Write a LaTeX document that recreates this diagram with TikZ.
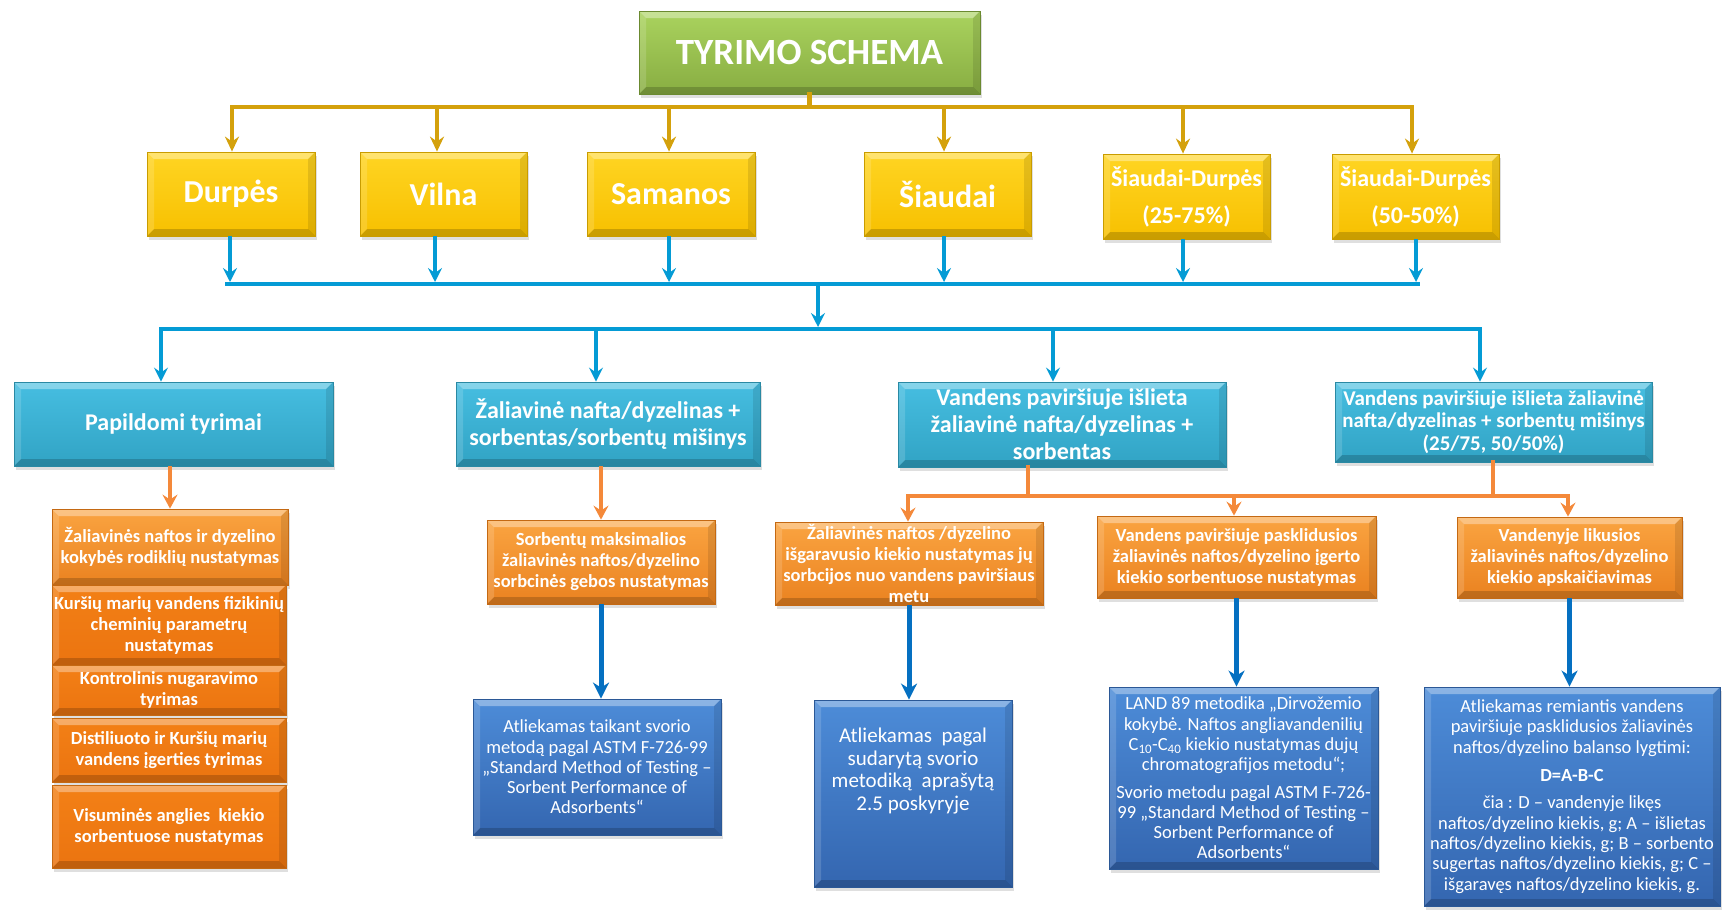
\documentclass[tikz,border=0pt]{standalone}
\usepackage{fontspec}
\setmainfont{Carlito}
\usetikzlibrary{arrows.meta,shadows,calc}
\definecolor{gTop}{HTML}{AAD35E}
\definecolor{gBot}{HTML}{88AD42}
\definecolor{gEdge}{HTML}{6B8A30}
\definecolor{yTop}{HTML}{FFD523}
\definecolor{yBot}{HTML}{F7C000}
\definecolor{yEdge}{HTML}{C99C00}
\definecolor{tTop}{HTML}{46BEE1}
\definecolor{tBot}{HTML}{31A3C4}
\definecolor{tEdge}{HTML}{2A89A3}
\definecolor{oTop}{HTML}{FAA441}
\definecolor{oBot}{HTML}{EA8220}
\definecolor{oEdge}{HTML}{C46913}
\definecolor{o2Top}{HTML}{F38016}
\definecolor{o2Bot}{HTML}{EB7410}
\definecolor{bTop}{HTML}{4D8CD8}
\definecolor{bBot}{HTML}{3466B0}
\definecolor{bEdge}{HTML}{2B5896}
\definecolor{goldLn}{HTML}{D4A10C}
\definecolor{lbLn}{HTML}{049BD5}
\definecolor{orLn}{HTML}{F4893A}
\definecolor{dbLn}{HTML}{0570C1}
\begin{document}
\begin{tikzpicture}[x=1pt,y=-1pt,
  bevel/.style={path picture={
    \fill[white,opacity=0.35] (path picture bounding box.north west) -- (path picture bounding box.north east) -- ([shift={(-7pt,-7pt)}]path picture bounding box.north east) -- ([shift={(7pt,-7pt)}]path picture bounding box.north west) -- cycle;
    \fill[black,opacity=0.18] (path picture bounding box.south west) -- (path picture bounding box.south east) -- ([shift={(-7pt,7pt)}]path picture bounding box.south east) -- ([shift={(7pt,7pt)}]path picture bounding box.south west) -- cycle;
    \fill[white,opacity=0.15] (path picture bounding box.north west) -- ([shift={(7pt,-7pt)}]path picture bounding box.north west) -- ([shift={(7pt,7pt)}]path picture bounding box.south west) -- (path picture bounding box.south west) -- cycle;
    \fill[black,opacity=0.1] (path picture bounding box.north east) -- ([shift={(-7pt,-7pt)}]path picture bounding box.north east) -- ([shift={(-7pt,7pt)}]path picture bounding box.south east) -- (path picture bounding box.south east) -- cycle;
  }},
  box/.style={draw, line width=0.8pt, inner sep=0pt, align=center, text=white,
    drop shadow={opacity=0.25,shadow xshift=2pt,shadow yshift=-4pt}, bevel},
  titlebox/.style={box, top color=gTop, bottom color=gBot, draw=gEdge,
    font=\fontsize{37}{44}\selectfont\bfseries},
  ybox/.style={box, top color=yTop, bottom color=yBot, draw=yEdge,
    font=\fontsize{32}{37}\selectfont\bfseries},
  ysmall/.style={ybox, font=\fontsize{24}{37}\selectfont\bfseries},
  tbox/.style={box, top color=tTop, bottom color=tBot, draw=tEdge,
    font=\fontsize{24}{27}\selectfont\bfseries},
  obox/.style={box, top color=oTop, bottom color=oBot, draw=oEdge,
    font=\fontsize{18.5}{21}\selectfont\bfseries},
  obox2/.style={obox, top color=o2Top, bottom color=o2Bot},
  bbox/.style={box, top color=bTop, bottom color=bBot, draw=bEdge,
    font=\fontsize{18.5}{20.3}\selectfont},
  btext/.style={inner sep=0pt, align=center, text=white, font=\fontsize{21}{22.7}\selectfont},
  gold/.style={draw=goldLn, line width=4.3pt, line cap=rect},
  goldarr/.style={draw=goldLn, line width=4pt, -{Stealth[length=15pt,width=14pt,inset=5pt]}},
  lb/.style={draw=lbLn, line width=4.3pt, line cap=rect},
  lbarr/.style={draw=lbLn, line width=4pt, -{Stealth[length=14pt,width=14pt,inset=5pt]}},
  orl/.style={draw=orLn, line width=4pt, line cap=rect},
  orarr/.style={draw=orLn, line width=4pt, -{Stealth[length=14pt,width=15pt,inset=5pt]}},
  dbarr/.style={draw=dbLn, line width=5pt, -{Stealth[length=16pt,width=16pt,inset=5pt]}}
]
\useasboundingbox (0,0) rectangle (1722,910);

% ---------- title and first row ----------
\node[titlebox, minimum width=341pt, minimum height=83pt] (title) at (809.5,52.5) {TYRIMO SCHEMA};

\node[ybox, minimum width=168pt, minimum height=84pt] (durpes) at (231,194) {Durpės};
\node[ybox, minimum width=167pt, minimum height=84pt] (vilna) at (443.5,194) {Vilna};
\node[ybox, minimum width=168pt, minimum height=84pt] (samanos) at (671,194) {Samanos};
\node[ybox, minimum width=167pt, minimum height=84pt] (siaudai) at (947.5,194) {Šiaudai};
\node[ysmall, minimum width=167pt, minimum height=85pt] (sd25) at (1186.5,196.5) {Šiaudai-Durpės\\(25-75\%)};
\node[ysmall, minimum width=167pt, minimum height=85pt] (sd50) at (1415.5,196.5) {Šiaudai-Durpės\\(50-50\%)};

% gold connectors
\coordinate (gL) at (232,107);
\coordinate (gR) at (1412,107);
\draw[gold] (title.south) -- (title.south |- gL);
\draw[gold] (gL) -- (gR);
\foreach \x/\n in {232/durpes,437/vilna,669/samanos,944/siaudai,1183/sd25,1412/sd50}{
  \coordinate (gt) at (\x,107);
  \draw[goldarr] (gt) -- (gt |- \n.north);
}

% light blue connectors
\coordinate (bL) at (227,284);
\coordinate (bR) at (1418,284);
\draw[lb] (bL) -- (bR);
\foreach \x/\n in {230/durpes,435/vilna,669/samanos,944/siaudai,1183/sd25,1416/sd50}{
  \coordinate (bt) at (\x,282);
  \draw[lbarr] (\n.south -| bt) -- (bt);
}
\coordinate (bM) at (818,284);
\coordinate (b2M) at (818,327);
\draw[lbarr] (bM) -- (b2M);
\coordinate (b2L) at (161,329);
\coordinate (b2R) at (1480,329);
\draw[lb] (b2L) -- (b2R);

% ---------- second row ----------
\node[tbox, minimum width=319pt, minimum height=84pt] (t1) at (173.5,424) {Papildomi tyrimai};
\node[tbox, minimum width=304pt, minimum height=84pt] (t2) at (608,424) {Žaliavinė nafta/dyzelinas +\\sorbentas/sorbentų mišinys};
\node[tbox, minimum width=328pt, minimum height=85pt] (t3) at (1062,424.5) {Vandens paviršiuje išlieta\\žaliavinė nafta/dyzelinas +\\sorbentas};
\node[tbox, minimum width=317pt, minimum height=80pt, font=\fontsize{21}{22.5}\selectfont\bfseries] (t4) at (1493.5,422) {Vandens paviršiuje išlieta žaliavinė\\nafta/dyzelinas + sorbentų mišinys\\(25/75, 50/50\%)};

\foreach \x/\n in {161/t1,596/t2,1053/t3,1480/t4}{
  \coordinate (ct) at (\x,329);
  \draw[lbarr] (ct) -- (ct |- \n.north);
}

% ---------- left stack ----------
\node[obox, minimum width=236pt, minimum height=76pt] (o1a) at (170,547) {Žaliavinės naftos ir dyzelino\\kokybės rodiklių nustatymas};
\node[obox2, minimum width=234pt, minimum height=80pt] (o1b) at (169,625) {Kuršių marių vandens fizikinių\\cheminių parametrų\\nustatymas};
\node[obox2, minimum width=234pt, minimum height=50pt] (o1c) at (169,690) {Kontrolinis nugaravimo\\tyrimas};
\node[obox2, minimum width=234pt, minimum height=64pt] (o1d) at (169,750) {Distiliuoto ir Kuršių marių\\vandens įgerties tyrimas};
\node[obox2, minimum width=234pt, minimum height=83pt] (o1e) at (169,826.5) {Visuminės anglies\ \ kiekio\\sorbentuose nustatymas};
\draw[orarr] (o1a.north |- t1.south) -- (o1a.north);

% ---------- column 2 ----------
\node[obox, minimum width=228pt, minimum height=84pt] (o2) at (601,562) {Sorbentų maksimalios\\žaliavinės naftos/dyzelino\\sorbcinės gebos nustatymas};
\draw[orarr] (o2.north |- t2.south) -- (o2.north);
\node[bbox, minimum width=248pt, minimum height=136pt] (b2) at (597,767) {Atliekamas taikant svorio\\metodą pagal ASTM F-726-99\\„Standard Method of Testing –\\Sorbent Performance of\\Adsorbents“};
\draw[dbarr] (o2.south) -- (o2.south |- b2.north);

% ---------- orange bus ----------
\coordinate (ob3) at (1028,496);
\coordinate (ob4) at (1493,496);
\coordinate (obL) at (908,496);
\coordinate (obR) at (1568,496);
\draw[orl] (t3.south -| ob3) -- (ob3);
\draw[orl] (t4.south -| ob4) -- (ob4);
\draw[orl] (obL) -- (obR);

\node[obox, minimum width=268pt, minimum height=83pt] (o3a) at (909,563.5) {Žaliavinės naftos /dyzelino\\išgaravusio kiekio nustatymas jų\\sorbcijos nuo vandens paviršiaus\\metu};
\node[obox, minimum width=279pt, minimum height=82pt] (o3b) at (1236.5,557) {Vandens paviršiuje pasklidusios\\žaliavinės naftos/dyzelino įgerto\\kiekio sorbentuose nustatymas};
\node[obox, minimum width=225pt, minimum height=81pt] (o4) at (1569.5,557.5) {Vandenyje likusios\\žaliavinės naftos/dyzelino\\kiekio apskaičiavimas};
\foreach \x/\n in {908/o3a,1234/o3b,1568/o4}{
  \coordinate (od) at (\x,496);
  \draw[orarr] (od) -- (od |- \n.north);
}

% ---------- blue method boxes ----------
\node[bbox, minimum width=198pt, minimum height=187pt] (b3a) at (913,793.5) {};
\node[btext] (b3atext) at (913,771) {Atliekamas\ \ pagal\\sudarytą svorio\\metodiką\ \ aprašytą\\2.5 poskyryje};
\draw[dbarr] (o3a.south) -- (o3a.south |- b3a.north);

\node[bbox, minimum width=269pt, minimum height=182pt] (b3b) at (1243.5,778) {LAND 89 metodika „Dirvožemio\\kokybė. Naftos angliavandenilių\\C\textsubscript{10}-C\textsubscript{40} kiekio nustatymas dujų\\chromatografijos metodu“;\\[7pt]Svorio metodu pagal ASTM F-726-\\99 „Standard Method of Testing –\\Sorbent Performance of\\Adsorbents“};
\draw[dbarr] (o3b.south) -- (o3b.south |- b3b.north);

\node[bbox, minimum width=296pt, minimum height=219pt] (b4) at (1572,796.5) {Atliekamas remiantis vandens\\paviršiuje pasklidusios žaliavinės\\naftos/dyzelino balanso lygtimi:\\[8pt]\textbf{D=A-B-C}\\[7pt]čia : D – vandenyje likęs\\naftos/dyzelino kiekis, g; A – išlietas\\naftos/dyzelino kiekis, g; B – sorbento\\sugertas naftos/dyzelino kiekis, g; C –\\išgaravęs naftos/dyzelino kiekis, g.};
\draw[dbarr] (o4.south) -- (o4.south |- b4.north);
\end{tikzpicture}
\end{document}
